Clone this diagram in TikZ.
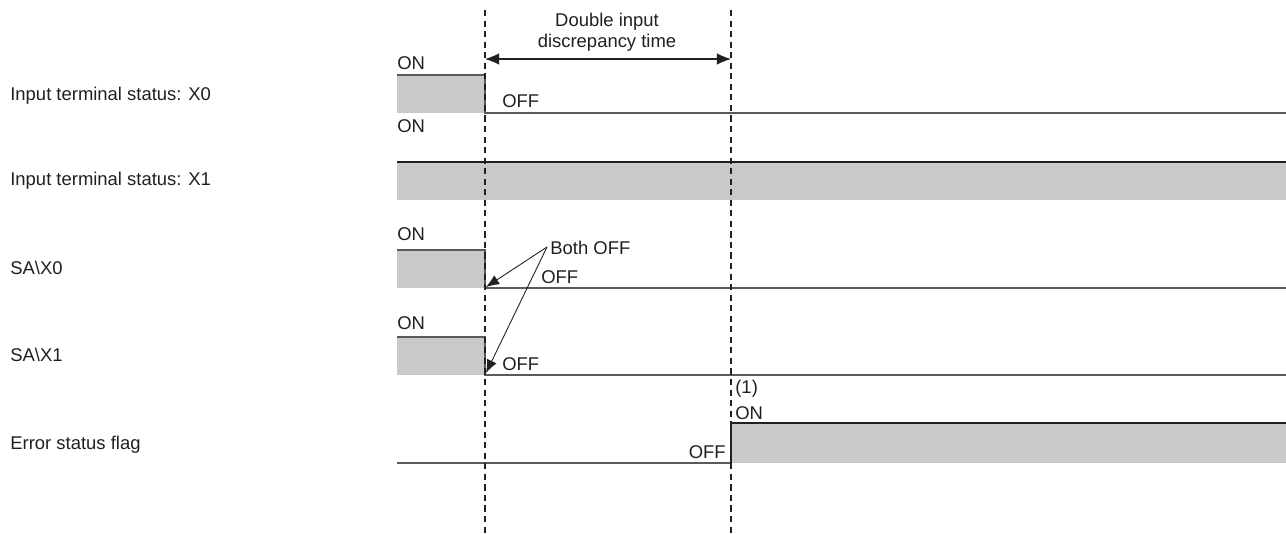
\documentclass[tikz,border=0pt]{standalone}
\usepackage{fontspec}
\setmainfont{Liberation Sans}
\usetikzlibrary{arrows.meta,positioning,calc}
\definecolor{LevelGray}{HTML}{C8C9CB}
\definecolor{LineGray}{HTML}{5A5A5A}
\definecolor{InkBlack}{HTML}{231F20}

\begin{document}
\begin{tikzpicture}[x=0.02cm,y=-0.02cm,>=Latex,
  font=\fontsize{10.5}{12}\selectfont,text=InkBlack,
  lbl/.style={inner sep=0pt,anchor=west},
  lvl/.style={fill=LevelGray},
  sig/.style={draw=LineGray,line width=0.9pt},
  tmark/.style={draw=InkBlack,dash pattern=on 3.5pt off 2.5pt,line width=0.6pt},
  ptr/.style={draw=InkBlack,line width=0.5pt,-{Latex[length=7.5pt,width=6pt]}}]
\useasboundingbox (0,0) rectangle (1286,534);
% signal names
\node[lbl] (nX0) at (10,96) {Input terminal status: X0};
\node[lbl] (nX1) at (10,181) {Input terminal status: X1};
\node[lbl] (nSA0) at (10,268) {SA\textbackslash X0};
\node[lbl] (nSA1) at (10,355) {SA\textbackslash X1};
\node[lbl] (nErr) at (10,445) {Error status flag};
% levels
\fill[lvl] (397,75) rectangle (485,113);
\fill[lvl] (397,162) rectangle (1286,200);
\fill[lvl] (397,250) rectangle (485,288);
\fill[lvl] (397,337) rectangle (485,375);
\fill[lvl] (731,423) rectangle (1286,463);
\draw[sig] (397,75) -- (485,75) -- (485,113) -- (1286,113);
\draw[sig,draw=InkBlack] (397,162) -- (1286,162);
\draw[sig] (397,250) -- (485,250) -- (485,288) -- (1286,288);
\draw[sig] (397,337) -- (485,337) -- (485,375) -- (1286,375);
\draw[sig] (397,463) -- (731,463);
\draw[sig,draw=InkBlack] (731,463) -- (731,423) -- (1286,423);
% timing marks
\coordinate (t0a) at (485,10);
\coordinate (t0b) at (485,534);
\coordinate (t1a) at (731,10);
\coordinate (t1b) at (731,534);
\draw[tmark] (t0a) -- (t0b);
\draw[tmark] (t1a) -- (t1b);
\coordinate (dA) at (485,59);
\coordinate (dB) at (731,59);
\draw[draw=InkBlack,line width=0.6pt,{Latex[length=8pt,width=6.5pt]}-{Latex[length=8pt,width=6.5pt]}] (dA) -- (dB);
\node[inner sep=0pt,align=center] (disc) at (607,32) {Double input\\discrepancy time};
% state labels
\node[lbl] (on0) at (397,63) {ON};
\node[lbl] (off0) at (502,101) {OFF};
\node[lbl] (on1) at (397,126) {ON};
\node[lbl] (on2) at (397,234) {ON};
\node[lbl] (off2) at (541,277) {OFF};
\node[lbl] (on3) at (397,323) {ON};
\node[lbl] (off3) at (502,364) {OFF};
\node[lbl] (one) at (735,389) {(1)};
\node[lbl] (on4) at (735,413) {ON};
\node[inner sep=0pt,anchor=east] (off4) at (726,452) {OFF};
% both off
\node[lbl] (both) at (550,248) {Both OFF};
\coordinate (bo) at (547,247);
\coordinate (x0end) at (486,287);
\coordinate (x1end) at (486,373);
\draw[ptr] (bo) -- (x0end);
\draw[ptr] (bo) -- (x1end);
\end{tikzpicture}
\end{document}
